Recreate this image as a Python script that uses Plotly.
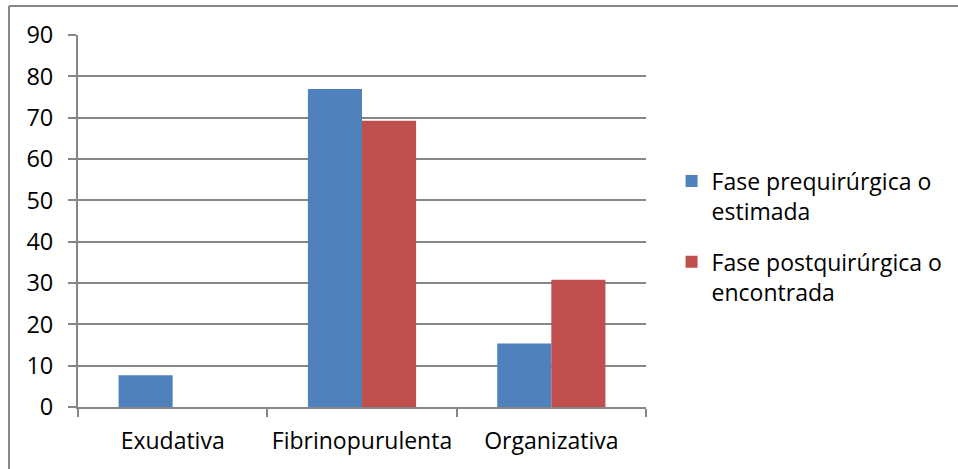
import plotly.graph_objects as go

# Phase classification (% of cases)
categorias = ["Exudativa", "Fibrinopurulenta", "Organizativa"]
prequirurgica = [7.69, 76.92, 15.38]
postquirurgica = [0, 69.23, 30.77]
serie_nombres = ["Fase prequirúrgica o<br>estimada", "Fase postquirúrgica o<br>encontrada"]
y_ticks = list(range(0, 91, 10))

AZUL = "#4F81BD"
ROJO = "#C0504D"
GRIS = "#868686"
FUENTE = "'Open Sans', 'Noto Sans', sans-serif"

fig = go.Figure()
fig.add_trace(go.Bar(x=categorias, y=prequirurgica, name=serie_nombres[0],
                     legendgroup="pre",
                     marker=dict(color=AZUL, line=dict(width=0))))
fig.add_trace(go.Bar(x=categorias, y=postquirurgica, name=serie_nombres[1],
                     legendgroup="post",
                     marker=dict(color=ROJO, line=dict(width=0))))

fig.update_layout(
    width=958, height=469,
    margin=dict(l=78, r=312, t=35, b=62, autoexpand=False),
    paper_bgcolor="white", plot_bgcolor="white",
    barmode="group", bargap=0.4286, bargroupgap=0,
    font=dict(family=FUENTE, size=23, color="#000000"),
    showlegend=True,
    legend=dict(x=1.045, y=0.665, xanchor="left", yanchor="top",
                valign="top", font=dict(size=23), tracegroupgap=18,
                itemwidth=30, bgcolor="rgba(0,0,0,0)"),
    xaxis=dict(showgrid=False, showline=True, linecolor=GRIS, linewidth=2,
               ticks="outside", ticklen=8, tickcolor=GRIS, tickwidth=2,
               tickson="boundaries", ticklabelstandoff=12, tickangle=0,
               automargin=False, tickfont=dict(size=23)),
    yaxis=dict(range=[0, 90], tickvals=y_ticks, showgrid=True,
               gridcolor=GRIS, gridwidth=2, showline=True, linecolor=GRIS,
               linewidth=2, ticks="outside", ticklen=8, tickcolor=GRIS,
               tickwidth=2, zeroline=False, ticklabelstandoff=10,
               automargin=False, tickfont=dict(size=23.5)),
    shapes=[
        # chart frame (left and top edges)
        dict(type="line", xref="paper", yref="paper",
             x0=-0.1215, x1=-0.1215, y0=-0.2, y1=1.078,
             line=dict(color=GRIS, width=2)),
        dict(type="line", xref="paper", yref="paper",
             x0=-0.1215, x1=1.6, y0=1.078, y1=1.078,
             line=dict(color=GRIS, width=2)),
    ],
)

fig.write_html("out.html")
